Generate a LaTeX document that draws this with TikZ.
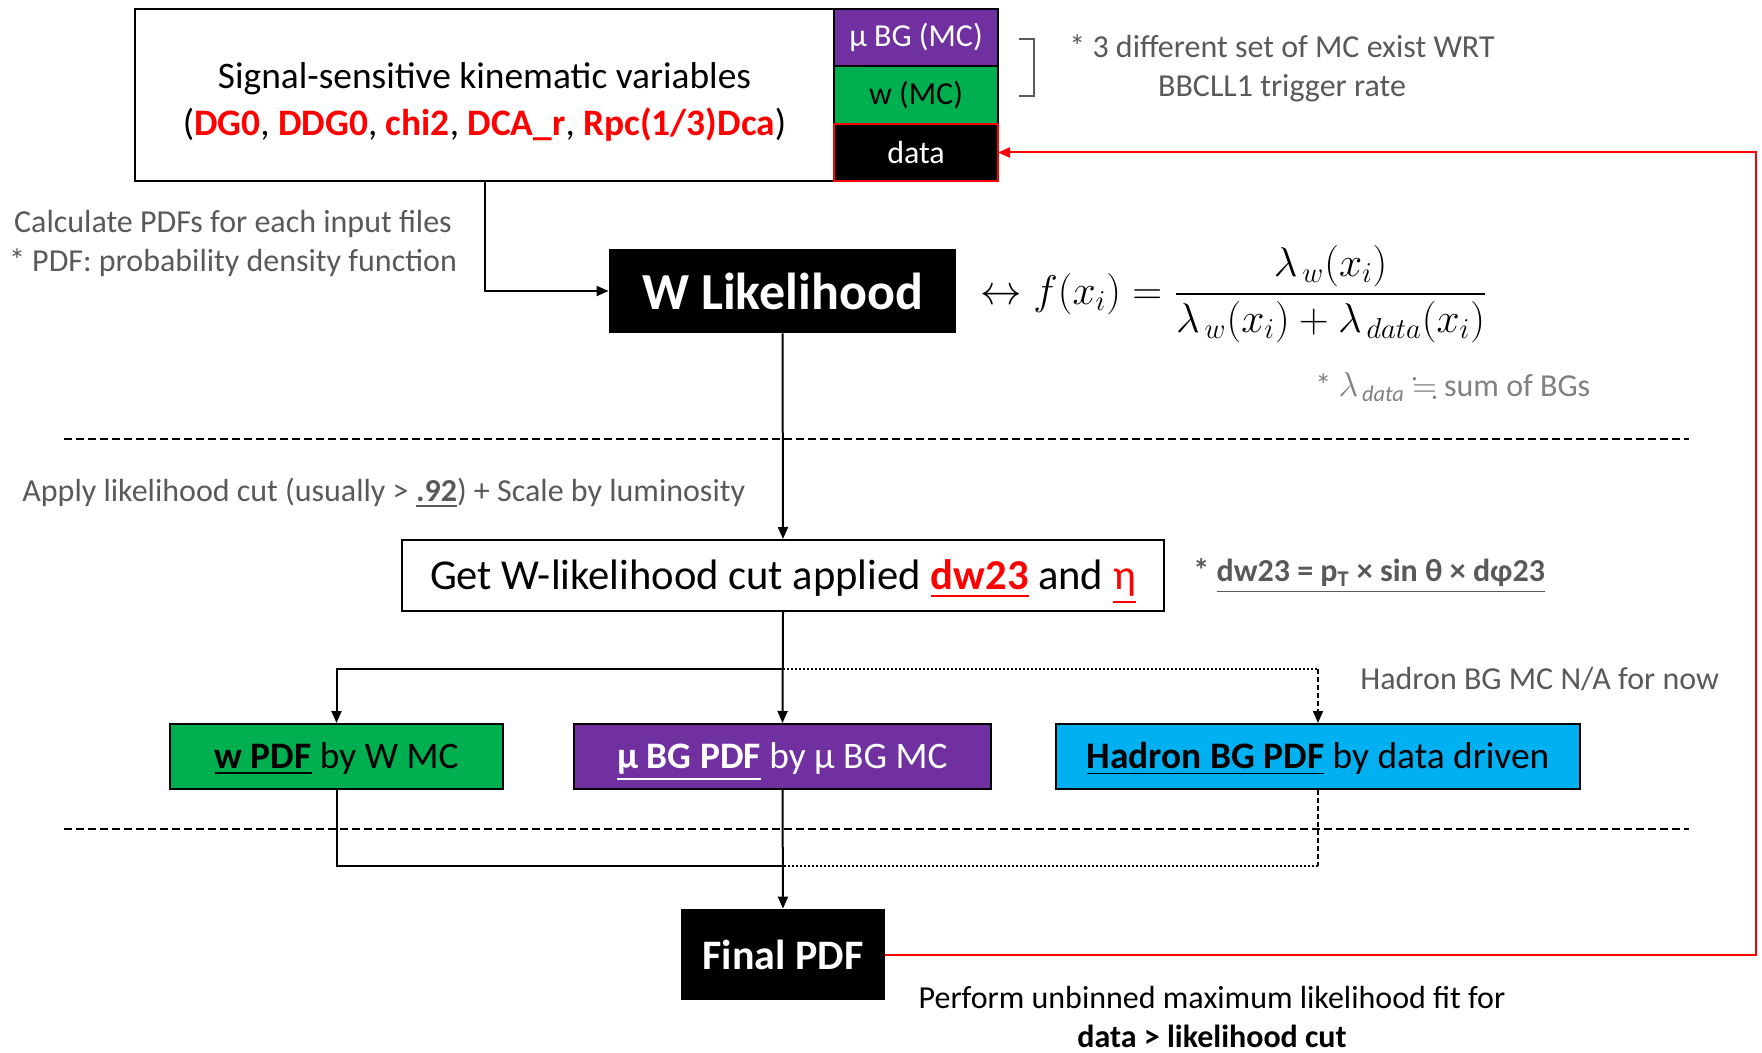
\documentclass[tikz,border=0pt]{standalone}
\usepackage{amsmath,amssymb}
\usepackage{fontspec}
\setmainfont{Carlito}
\usepackage{xcolor}
\usepackage{tikz}
\usetikzlibrary{arrows.meta,positioning}
\definecolor{wlPurple}{HTML}{7030A0}
\definecolor{wlGreen}{HTML}{00B050}
\definecolor{wlCyan}{HTML}{00B0F0}
\definecolor{wlRed}{HTML}{FF0000}
\definecolor{wlGray}{HTML}{595959}
\definecolor{wlLight}{HTML}{808080}
\newcommand{\rv}[1]{\textcolor{wlRed}{\textbf{#1}}}
\tikzset{
  inbox/.style={
    rectangle,
    draw=black,
    line width=1pt,
    fill=white,
    align=center,
    inner sep=0pt,
    font=\fontsize{18.7}{22.5}\selectfont
  },
  cell/.style={
    rectangle,
    draw=black,
    line width=1pt,
    inner sep=0pt,
    outer sep=0pt,
    minimum width=82pt,
    minimum height=28.7pt,
    font=\fontsize{16}{19}\selectfont
  },
  blackbox/.style={
    rectangle,
    fill=black,
    text=white,
    inner sep=0pt
  },
  pdfbox/.style={
    rectangle,
    draw=black,
    line width=1pt,
    inner sep=0pt,
    minimum height=32.5pt,
    text height=16pt,
    text depth=4.5pt,
    font=\fontsize{18.7}{22}\selectfont
  },
  note/.style={text=wlGray, align=center, inner sep=0pt, font=\fontsize{16}{19.5}\selectfont},
  arrow/.style={-{Triangle[length=6pt,width=5pt]}, line width=1pt, draw=black},
  link/.style={line width=1pt, draw=black},
  dotlink/.style={line width=0.8pt, dash pattern=on 1pt off 1pt},
  dasharrow/.style={-{Triangle[length=6pt,width=5pt]}, line width=0.8pt, dash pattern=on 2.5pt off 1.5pt},
  dashlink/.style={line width=0.8pt, dash pattern=on 2.5pt off 1.5pt},
  sep/.style={line width=1pt, dash pattern=on 4pt off 2pt},
  redarrow/.style={-{Triangle[length=6pt,width=5pt]}, line width=1pt, draw=wlRed}
}
\begin{document}
\begin{tikzpicture}[x=0.5pt,y=-0.5pt]
  \useasboundingbox (0,0) rectangle (1762,1053);
  % input block
  \node[inbox, minimum width=349.5pt, minimum height=86pt] (vars) at (484.5,95) {\rule{0pt}{20pt}Signal-sensitive kinematic variables\\[1pt](\rv{DG0}, \rv{DDG0}, \rv{chi2}, \rv{DCA\_r}, \rv{Rpc(1/3)Dca})};
  \node[cell, fill=wlPurple, text=white, anchor=north west] (mubgmc) at (834,9) {µ BG (MC)};
  \node[cell, fill=wlGreen, below=0pt of mubgmc] (wmc) {w (MC)};
  \node[cell, fill=black, draw=wlRed, text=white, below=0pt of wmc] (data) {data};
  \draw[wlGray, line width=1pt] (1019,39) -- (1034,39) -- (1034,96) -- (1019,96);
  \node[note] (mcnote) at (1282,68.5) {* 3 different set of MC exist WRT\\BBCLL1 trigger rate};

  % likelihood
  \node[blackbox, minimum width=173.5pt, minimum height=42pt, font=\fontsize{26}{30}\selectfont\bfseries] (wlike) at (782.5,291) {W Likelihood};
  \node[note] (calcnote) at (233,243.5) {Calculate PDFs for each input files\\* PDF: probability density function};
  \node[anchor=west, inner sep=0pt, font=\fontsize{20}{24}\selectfont] (fx) at (980,294) {$\leftrightarrow f(x_i) = \dfrac{\lambda_{\,w}(x_i)}{\lambda_{\,w}(x_i)+\lambda_{\,data}(x_i)}$};
  \node[note, text=wlLight, anchor=west] (datanote) at (1315,387) {* $\lambda$\textsubscript{\,\textit{data}} $\fallingdotseq$ sum of BGs};
  \draw[sep] (64,439) -- (1689,439);

  % cut
  \node[note, anchor=west] (cutnote) at (22,493) {Apply likelihood cut (usually > \underline{\textbf{.92}}) + Scale by luminosity};
  \node[inbox, minimum width=381pt, minimum height=35.5pt, text height=19pt, text depth=5pt, font=\fontsize{21.3}{25}\selectfont] (getcut) at (783,575.5) {Get W-likelihood cut applied \textcolor{wlRed}{\underline{\textbf{dw23}}} and \textcolor{wlRed}{\underline{η}}};
  \node[note, anchor=west, font=\fontsize{16}{19.5}\selectfont\bfseries] (dwnote) at (1193,576) {* \underline{dw23 = p\textsubscript{T} × sin θ × dφ23}};

  % PDFs
  \node[pdfbox, fill=wlGreen, minimum width=166.5pt] (wpdf) at (336.5,756.5) {\underline{\textbf{w PDF}} by W MC};
  \node[pdfbox, fill=wlPurple, text=white, minimum width=208.5pt] (mupdf) at (782.5,756.5) {\underline{\textbf{µ BG PDF}} by µ BG MC};
  \node[pdfbox, fill=wlCyan, minimum width=262pt] (hadpdf) at (1318,756.5) {\underline{\textbf{Hadron BG PDF}} by data driven};
  \node[note, anchor=west] (hadnote) at (1360,679) {Hadron BG MC N/A for now};
  \draw[sep] (64,829) -- (1689,829);

  % final
  \node[blackbox, minimum width=102pt, minimum height=45.5pt, font=\fontsize{21}{25}\selectfont\bfseries] (final) at (783,954.5) {Final PDF};
  \node[note, text=black] (fitnote) at (1212,1017) {Perform unbinned maximum likelihood fit for\\\textbf{data > likelihood cut}};

  \coordinate (split) at (783,669);
  \coordinate (merge) at (783,866);
  \coordinate (loop) at (1756,0);

  \draw[arrow] (vars.south) |- (wlike.west);
  \draw[arrow] (wlike.south) -- (getcut.north);
  \draw[arrow] (getcut.south) -- (mupdf.north);
  \draw[arrow] (split) -| (wpdf.north);
  \draw[dotlink] (split) -- (split -| hadpdf.north);
  \draw[dasharrow] (split -| hadpdf.north) -- (hadpdf.north);
  \draw[link] (wpdf.south) |- (merge);
  \draw[dashlink] (hadpdf.south) -- (hadpdf.south |- merge);
  \draw[dotlink] (hadpdf.south |- merge) -- (merge);
  \draw[arrow] (mupdf.south) -- (final.north);
  \draw[redarrow] (final.east) -- (final.east -| loop) |- (data.east);
\end{tikzpicture}
\end{document}
